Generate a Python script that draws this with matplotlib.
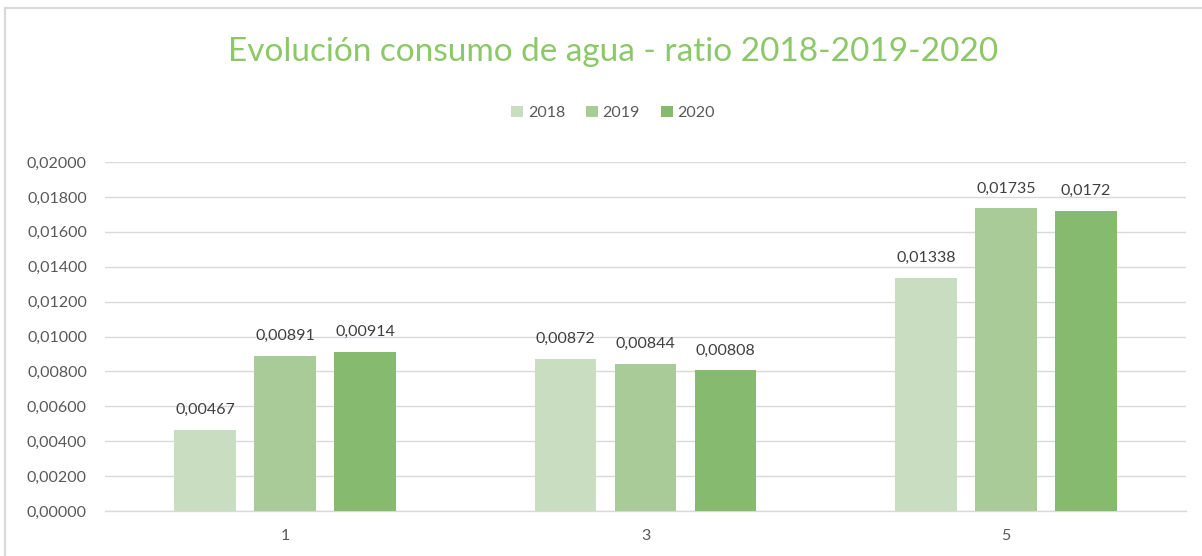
import numpy as np
import matplotlib
matplotlib.use("Agg")
from matplotlib import pyplot as plt

plt.rcParams['font.family'] = ['Lato', 'DejaVu Sans']

# data
categories = ['1', '3', '5']
years = ['2018', '2019', '2020']
v2018 = [0.00467, 0.00872, 0.01338]
v2019 = [0.00891, 0.00844, 0.01735]
v2020 = [0.00914, 0.00808, 0.0172]
colors = ['#C9DDC0', '#A9CB98', '#86BA6E']

text_col = '#595959'

fig = plt.figure(figsize=(12.02, 5.56), dpi=100)
ax = fig.add_axes([105/1202, 1 - 511/556, (1186 - 105)/1202, (511 - 162)/556])

x = np.arange(len(categories))
width = 0.172
step = 0.222
for i, (vals, yr, c) in enumerate(zip([v2018, v2019, v2020], years, colors)):
    pos = x + (i - 1) * step
    bars = ax.bar(pos, vals, width, color=c, label=yr, zorder=3)
    for b, v in zip(bars, vals):
        ax.annotate(str(v).replace('.', ','), (b.get_x() + b.get_width() / 2, v),
                    xytext=(0, 9), textcoords='offset points', ha='center', va='bottom',
                    fontsize=11.5, color='#404040')

ax.set_xlim(-0.5, 2.5)
ax.set_ylim(0, 0.02)
ticks = np.arange(0, 0.02001, 0.002)
ax.set_yticks(ticks)
ax.set_yticklabels([f'{t:.5f}'.replace('.', ',') for t in ticks])
ax.set_xticks(x)
ax.set_xticklabels(categories)
ax.yaxis.grid(True, color='#D9D9D9', lw=1, zorder=0)
for s in ['top', 'right', 'left']:
    ax.spines[s].set_visible(False)
ax.spines['bottom'].set_color('#D9D9D9')
ax.spines['bottom'].set_linewidth(1)
ax.tick_params(length=0, labelsize=11.5, colors=text_col)
ax.tick_params(axis='y', pad=13)
ax.tick_params(axis='x', pad=13)

fig.text(0.51, 1 - 52/556, 'Evolución consumo de agua - ratio 2018-2019-2020',
         ha='center', va='center', fontsize=24, color='#8CC868')
fig.legend(loc='center', bbox_to_anchor=(0.51, 1 - 113/556), ncol=3, frameon=False,
           fontsize=11.5, labelcolor=text_col, handlelength=0.75, handleheight=0.75,
           handletextpad=0.3, columnspacing=1.3)

# chart border (left and top only visible in the crop)
fig.add_artist(plt.Line2D([5/1202, 5/1202], [0, 1 - 8/556], color='#D9D9D9', lw=1.5))
fig.add_artist(plt.Line2D([5/1202, 1], [1 - 8/556, 1 - 8/556], color='#D9D9D9', lw=1.5))

fig.savefig('out.png', dpi=100)
